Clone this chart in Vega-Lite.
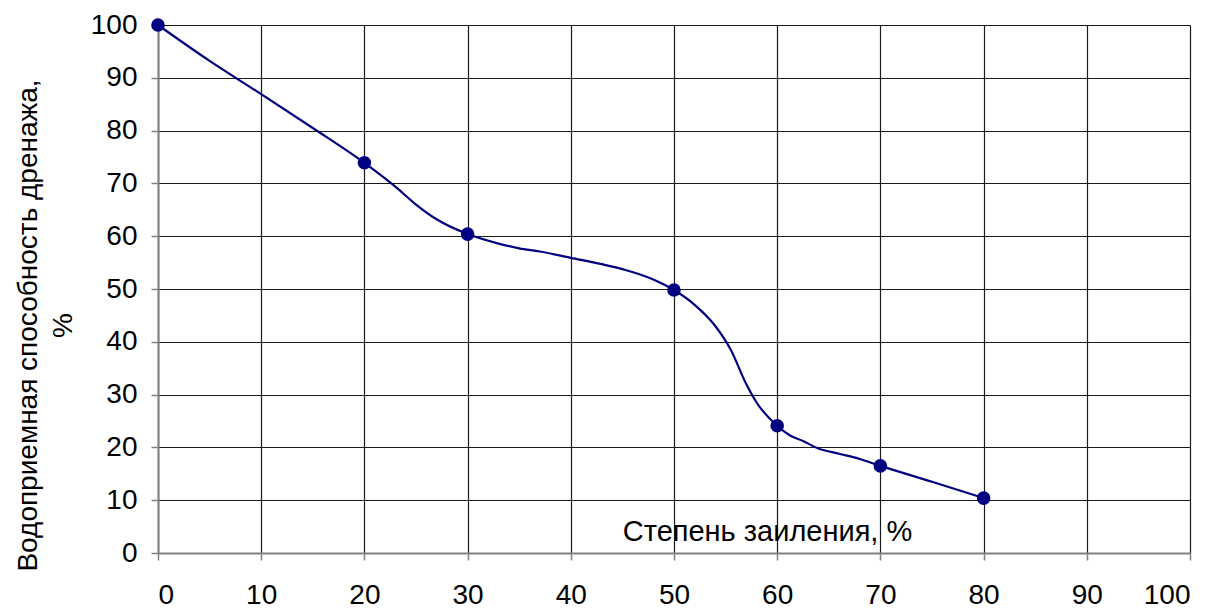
{
  "$schema": "https://vega.github.io/schema/vega-lite/v6.json",
  "autosize": {"type": "none"},
  "padding": {"left": 158, "top": 25, "right": 23, "bottom": 55},
  "width": 1032,
  "height": 528,
  "background": "white",
  "config": {
    "view": {"stroke": null},
    "font": "Liberation Sans",
    "axis": {
      "labelFont": "Liberation Sans",
      "titleFont": "Liberation Sans",
      "labelFontSize": 28,
      "labelColor": "#000000",
      "titleColor": "#000000",
      "titleFontWeight": "normal",
      "gridColor": "#1a1a1a",
      "gridOpacity": 1,
      "gridWidth": 1.2,
      "domainColor": "#808080",
      "domainWidth": 2,
      "tickColor": "#808080",
      "tickWidth": 1.5,
      "tickSize": 7
    }
  },
  "datasets": {
    "curve": [
      {"x": 0, "y": 100}, {"x": 5, "y": 93.2}, {"x": 10, "y": 86.9}, {"x": 15, "y": 80.5},
      {"x": 20, "y": 73.9}, {"x": 23, "y": 69.4}, {"x": 25, "y": 66}, {"x": 27, "y": 63.2},
      {"x": 30, "y": 60.4}, {"x": 33, "y": 58.6}, {"x": 35, "y": 57.7}, {"x": 37, "y": 57.1},
      {"x": 40, "y": 55.9}, {"x": 43, "y": 54.7}, {"x": 45.3, "y": 53.6}, {"x": 48, "y": 51.8},
      {"x": 50, "y": 49.8}, {"x": 52, "y": 47}, {"x": 54, "y": 43}, {"x": 55.5, "y": 38.5},
      {"x": 57, "y": 32}, {"x": 58, "y": 28.5}, {"x": 60, "y": 24.1}, {"x": 61.2, "y": 22.3},
      {"x": 62.5, "y": 21.2}, {"x": 64, "y": 19.8}, {"x": 66, "y": 18.8}, {"x": 68, "y": 17.8},
      {"x": 70, "y": 16.5}, {"x": 75, "y": 13.5}, {"x": 80, "y": 10.4}
    ],
    "points": [
      {"x": 0, "y": 100}, {"x": 20, "y": 73.9}, {"x": 30, "y": 60.4}, {"x": 50, "y": 49.8},
      {"x": 60, "y": 24.1}, {"x": 70, "y": 16.5}, {"x": 80, "y": 10.4}
    ]
  },
  "layer": [
    {
      "data": {"name": "curve"},
      "mark": {"type": "line", "color": "#000080", "strokeWidth": 2.2, "interpolate": "monotone"},
      "encoding": {
        "x": {
          "field": "x", "type": "quantitative",
          "scale": {"domain": [0, 100], "nice": false},
          "axis": {
            "values": [0, 10, 20, 30, 40, 50, 60, 70, 80, 90, 100],
            "labelPadding": 21,
            "title": "Степень заиления, %",
            "titleFontSize": 29,
            "titleX": 609,
            "titleY": -13,
            "titleBaseline": "alphabetic",
            "titleAlign": "center",
            "titleAnchor": null
          }
        },
        "y": {
          "field": "y", "type": "quantitative",
          "scale": {"domain": [0, 100], "nice": false},
          "axis": {
            "values": [0, 10, 20, 30, 40, 50, 60, 70, 80, 90, 100],
            "labelPadding": 14,
            "title": ["Водоприемная способность дренажа,", "%"],
            "titleFontSize": 28,
            "titleLineHeight": 35,
            "titleAngle": -90,
            "titleX": -122,
            "titleY": 300,
            "titleAlign": "center",
            "titleBaseline": "alphabetic"
          }
        }
      }
    },
    {
      "data": {"name": "points"},
      "mark": {"type": "point", "filled": true, "color": "#000080", "size": 185, "opacity": 1},
      "encoding": {
        "x": {"field": "x", "type": "quantitative"},
        "y": {"field": "y", "type": "quantitative"}
      }
    }
  ]
}
